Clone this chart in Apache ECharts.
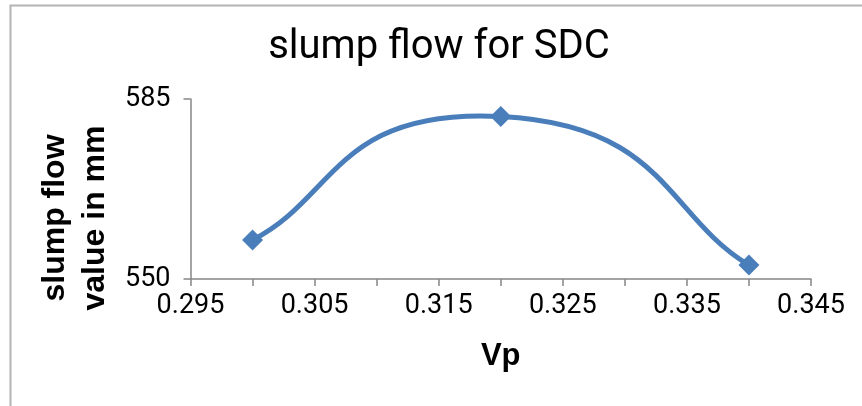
<!DOCTYPE html>
<html>
<head>
<meta charset="utf-8">
<script src="https://cdn.jsdelivr.net/npm/echarts@6/dist/echarts.min.js"></script>
<style>
html,body{margin:0;padding:0;background:#fff;}
#chart{width:862px;height:406px;}
</style>
</head>
<body>
<div id="chart"></div>
<script>
// Data
const vpValues = [0.30, 0.32, 0.34];
const slumpFlow = [557.6, 581.6, 552.7];
const xTickLabels = ['0.295', '0.305', '0.315', '0.325', '0.335', '0.345'];
const yTickLabels = ['550', '585'];

const chartTitle = 'slump flow for SDC';
const xName = 'Vp';
const yName = 'slump flow\nvalue in mm';

const seriesData = vpValues.map((v, i) => [v, slumpFlow[i]]);

const lineColor = '#4A7EBB';
const axisColor = '#878787';

// Excel-style smoothed line: cubic Bezier segments through the points,
// control points taken from neighbouring points (computed in pixel space
// via the chart's own coordinate system).
function renderSmoothSegment(params, api) {
  const i = params.dataIndex;
  const n = seriesData.length;
  if (i >= n - 1) return null;
  const P = (k) => api.coord(seriesData[Math.max(0, Math.min(n - 1, k))]);
  const p0 = P(i - 1), p1 = P(i), p2 = P(i + 1), p3 = P(i + 2);
  const t = 1 / 3;
  return {
    type: 'bezierCurve',
    shape: {
      x1: p1[0], y1: p1[1],
      cpx1: p1[0] + (p2[0] - p0[0]) * t, cpy1: p1[1] + (p2[1] - p0[1]) * t,
      cpx2: p2[0] - (p3[0] - p1[0]) * t, cpy2: p2[1] - (p3[1] - p1[1]) * t,
      x2: p2[0], y2: p2[1]
    },
    style: {stroke: lineColor, lineWidth: 5, fill: null, lineCap: 'round'}
  };
}

const chart = echarts.init(document.getElementById('chart'), null, {renderer: 'canvas'});

chart.setOption({
  animation: false,
  backgroundColor: '#ffffff',
  title: {
    text: chartTitle,
    left: 434,
    textAlign: 'center',
    top: 23,
    textStyle: {fontFamily: 'Roboto', fontSize: 40, fontWeight: 'normal', color: '#000'}
  },
  graphic: [{
    type: 'rect',
    shape: {x: 10.5, y: 5.5, width: 900, height: 500},
    style: {fill: 'none', stroke: '#b4b4b4', lineWidth: 2},
    silent: true
  }],
  grid: {left: 190.5, right: 51, top: 99, bottom: 127, containLabel: false},
  xAxis: {
    type: 'value',
    min: 0.295,
    max: 0.345,
    interval: 0.005,
    name: xName,
    nameLocation: 'middle',
    nameGap: 62,
    nameMoveOverlap: false,
    nameTextStyle: {fontFamily: 'Liberation Sans', fontSize: 31, fontWeight: 'bold', color: '#000'},
    axisLine: {lineStyle: {color: axisColor, width: 1.5}},
    axisTick: {show: true, length: 7, lineStyle: {color: axisColor, width: 1.5}},
    splitLine: {show: false},
    axisLabel: {
      fontFamily: 'Roboto', fontSize: 27, color: '#000', margin: 14,
      formatter: function (v) {
        const idx = Math.round((v - 0.295) / 0.005);
        return idx % 2 === 0 ? xTickLabels[idx / 2] : '';
      }
    }
  },
  yAxis: {
    type: 'value',
    min: 550,
    max: 585,
    interval: 35,
    name: yName,
    nameLocation: 'middle',
    nameGap: 75,
    nameMoveOverlap: false,
    nameRotate: 90,
    nameTextStyle: {fontFamily: 'Liberation Sans', fontSize: 32, fontWeight: 'bold', color: '#000', lineHeight: 40, padding: [0, 58, 0, 0]},
    axisLine: {show: true, lineStyle: {color: axisColor, width: 1.5}},
    axisTick: {show: true, length: 7, lineStyle: {color: axisColor, width: 1.5}},
    splitLine: {show: false},
    axisLabel: {
      fontFamily: 'Roboto', fontSize: 27, color: '#000', margin: 20,
      formatter: function (v) { return yTickLabels[Math.round((v - 550) / 35)]; }
    }
  },
  series: [{
    type: 'custom',
    renderItem: renderSmoothSegment,
    data: seriesData,
    clip: false,
    silent: true,
    z: 2
  }, {
    type: 'scatter',
    data: seriesData,
    symbol: 'diamond',
    symbolSize: 21,
    itemStyle: {color: lineColor, opacity: 1},
    z: 3
  }]
});
</script>
</body>
</html>
